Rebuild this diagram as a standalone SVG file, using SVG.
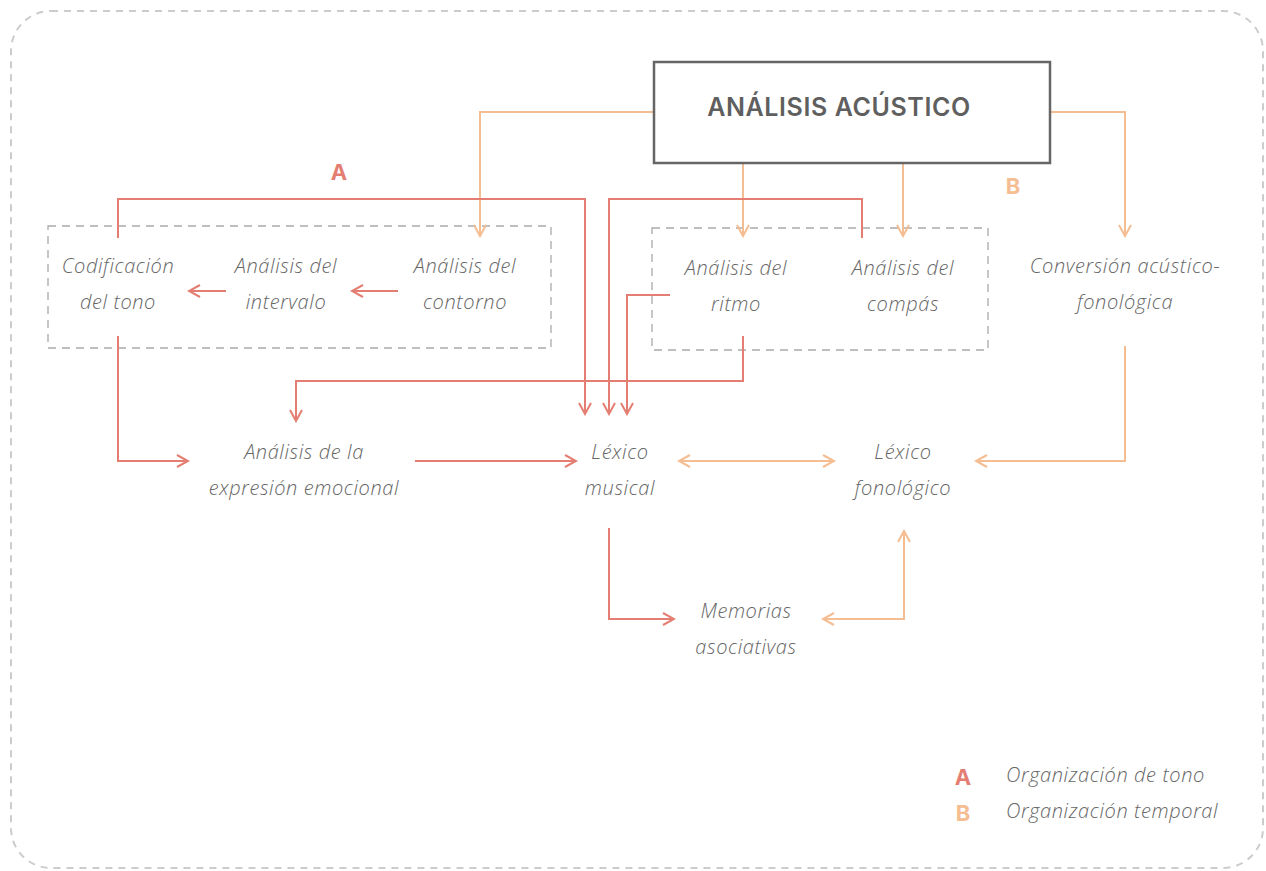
<svg xmlns="http://www.w3.org/2000/svg" width="1266" height="871" viewBox="0 0 1266 871">
<defs>
<style>
.t{font-family:"Open Sans","Noto Sans",sans-serif;font-style:italic;font-weight:300;font-size:20px;letter-spacing:0.6px;fill:#666;text-anchor:middle}
.lg{text-anchor:start}
.red{fill:none;stroke:#e47e72;stroke-width:2}
.org{fill:none;stroke:#f5bd92;stroke-width:2}
.grp{fill:none;stroke:#aaa;stroke-width:1.3;stroke-dasharray:8 6}
.lbl{font-family:"Inter","Liberation Sans",sans-serif;font-weight:700;font-size:22px;text-anchor:middle}
</style>
<marker id="ar" viewBox="0 0 14 14" refX="12" refY="7" markerWidth="14" markerHeight="14" markerUnits="userSpaceOnUse" orient="auto-start-reverse"><path d="M1,1 L12,7 L1,13" fill="none" stroke="#e47e72" stroke-width="2"/></marker>
<marker id="ao" viewBox="0 0 14 14" refX="12" refY="7" markerWidth="14" markerHeight="14" markerUnits="userSpaceOnUse" orient="auto-start-reverse"><path d="M1,1 L12,7 L1,13" fill="none" stroke="#f5bd92" stroke-width="2"/></marker>
</defs>
<rect x="11" y="11" width="1252" height="857" rx="40" fill="#fff" stroke="#ccc" stroke-width="2" stroke-dasharray="7 6"/>
<g id="groups">
<rect x="48" y="226" width="503" height="122" class="grp"/>
<rect x="652" y="228" width="336" height="122" class="grp"/>
</g>
<g id="connectors">
<path class="org" d="M653,112 H480 V236" marker-end="url(#ao)"/>
<path class="org" d="M743,163 V236" marker-end="url(#ao)"/>
<path class="org" d="M903,163 V236" marker-end="url(#ao)"/>
<path class="org" d="M1050,112 H1125 V236" marker-end="url(#ao)"/>
<path class="org" d="M1125,346 V461 H976" marker-end="url(#ao)"/>
<path class="org" d="M679,461 H834" marker-start="url(#ao)" marker-end="url(#ao)"/>
<path class="org" d="M904,531 V619 H823" marker-start="url(#ao)" marker-end="url(#ao)"/>
<path class="red" d="M118,238 V199 H585 V414" marker-end="url(#ar)"/>
<path class="red" d="M862,238 V199 H609 V414" marker-end="url(#ar)"/>
<path class="red" d="M670,295 H627 V414" marker-end="url(#ar)"/>
<path class="red" d="M743,336 V381 H296 V421" marker-end="url(#ar)"/>
<path class="red" d="M118,336 V461 H188" marker-end="url(#ar)"/>
<path class="red" d="M415,461 H576" marker-end="url(#ar)"/>
<path class="red" d="M609,528 V619 H674" marker-end="url(#ar)"/>
<path class="red" d="M226,291 H189" marker-end="url(#ar)"/>
<path class="red" d="M398,291 H352" marker-end="url(#ar)"/>
</g>
<g id="acustico">
<rect x="654" y="62" width="396" height="101" fill="#fff" stroke="#666" stroke-width="2.5"/>
<text x="839" y="116" style="font-family:'Inter','Liberation Sans',sans-serif;font-weight:600;font-size:25px;letter-spacing:0.6px;fill:#5f5f5f;text-anchor:middle">ANÁLISIS ACÚSTICO</text>
</g>
<g id="codificacion"><text class="t" x="118" y="273">Codificación</text><text class="t" x="118" y="309">del tono</text></g>
<g id="intervalo"><text class="t" x="286" y="273">Análisis del</text><text class="t" x="286" y="309">intervalo</text></g>
<g id="contorno"><text class="t" x="465" y="273">Análisis del</text><text class="t" x="465" y="309">contorno</text></g>
<g id="ritmo"><text class="t" x="736" y="275">Análisis del</text><text class="t" x="736" y="311">ritmo</text></g>
<g id="compas"><text class="t" x="903" y="275">Análisis del</text><text class="t" x="903" y="311">compás</text></g>
<g id="conversion"><text class="t" x="1125" y="273">Conversión acústico-</text><text class="t" x="1125" y="309">fonológica</text></g>
<g id="emocional"><text class="t" x="304" y="459">Análisis de la</text><text class="t" x="304" y="495">expresión emocional</text></g>
<g id="lexmusical"><text class="t" x="620" y="459">Léxico</text><text class="t" x="620" y="495">musical</text></g>
<g id="lexfono"><text class="t" x="903" y="459">Léxico</text><text class="t" x="903" y="495">fonológico</text></g>
<g id="memorias"><text class="t" x="746" y="618">Memorias</text><text class="t" x="746" y="654">asociativas</text></g>
<g id="labels">
<text class="lbl" x="339" y="180" fill="#e47e72">A</text>
<text class="lbl" x="1013" y="194" fill="#f5bd92">B</text>
</g>
<g id="legend">
<text class="lbl" x="963" y="785" fill="#e47e72">A</text>
<text class="t lg" x="1006" y="782">Organización de tono</text>
<text class="lbl" x="963" y="821" fill="#f5bd92">B</text>
<text class="t lg" x="1006" y="818">Organización temporal</text>
</g>
</svg>
